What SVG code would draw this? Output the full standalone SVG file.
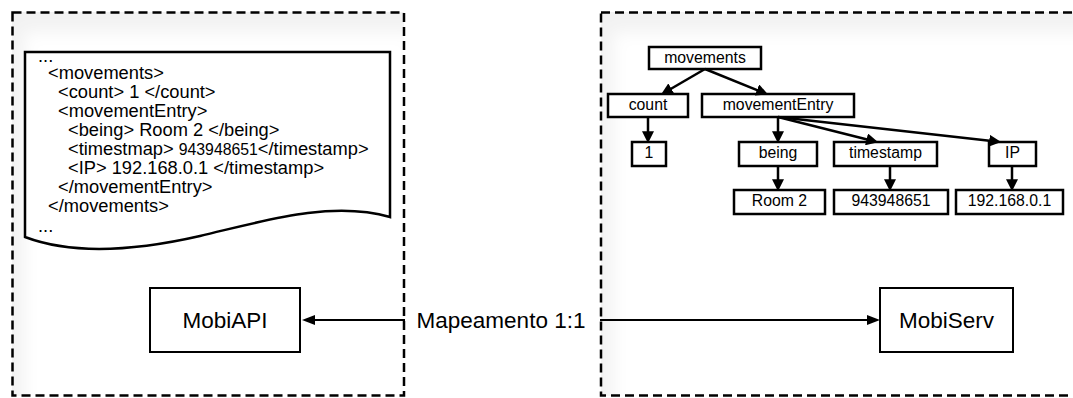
<svg xmlns="http://www.w3.org/2000/svg" width="1073" height="398" viewBox="0 0 1073 398">
  <style>
    .cont { fill: none; stroke: #000; stroke-width: 2.5; stroke-dasharray: 9 5; }
    .box { fill: #fff; stroke: #000; stroke-width: 2.5; }
    .bigbox { fill: #fff; stroke: #000; stroke-width: 2; }
    .xml { font-family: "Liberation Sans", Arial, sans-serif; font-size: 18.3px; fill: #000; }
    .lbl { font-family: "Liberation Sans", Arial, sans-serif; font-size: 15.8px; fill: #000; text-anchor: middle; }
    .big { font-family: "Liberation Sans", Arial, sans-serif; font-size: 22.5px; fill: #000; text-anchor: middle; }
    .edge { fill: none; stroke: #000; stroke-width: 2.5; }
    .link { fill: none; stroke: #000; stroke-width: 2; }
  </style>
  <defs>
    <marker id="ah" markerUnits="userSpaceOnUse" markerWidth="12" markerHeight="12" viewBox="0 0 10 10" refX="4" refY="5" orient="auto">
      <path d="M0,0 L10,5 L0,10 Z" fill="#000"/>
    </marker>
    <marker id="ahBig" markerUnits="userSpaceOnUse" markerWidth="13" markerHeight="10" viewBox="0 0 13 10" refX="4" refY="5" orient="auto">
      <path d="M0,0 L13,5 L0,10 Z" fill="#000"/>
    </marker>
    <filter id="blur" x="-20%" y="-20%" width="140%" height="140%">
      <feGaussianBlur stdDeviation="8"/>
    </filter>
    <clipPath id="clipL"><rect x="12" y="12" width="392" height="384"/></clipPath>
    <clipPath id="clipR"><rect x="601" y="12" width="480" height="384"/></clipPath>
  </defs>

  <!-- container shading -->
  <g id="shadeL" clip-path="url(#clipL)">
    <rect x="12" y="12" width="392" height="384" fill="#f2f2f2"/>
    <rect x="24" y="32" width="390" height="380" fill="#fff" filter="url(#blur)"/>
  </g>
  <g id="shadeR" clip-path="url(#clipR)">
    <rect x="601" y="12" width="480" height="384" fill="#f2f2f2"/>
    <rect x="613" y="32" width="480" height="380" fill="#fff" filter="url(#blur)"/>
  </g>

  <!-- XML document -->
  <g id="xmldoc">
    <path class="box" d="M25,52 H390 V217 C330,200 260,222 200,236 C130,252 70,254 25,237 Z"/>
    <text class="xml" x="38" y="62">...</text>
    <text class="xml" x="48" y="79">&lt;movements&gt;</text>
    <text class="xml" x="58" y="98">&lt;count&gt; 1 &lt;/count&gt;</text>
    <text class="xml" x="58" y="117">&lt;movementEntry&gt;</text>
    <text class="xml" x="68" y="136">&lt;being&gt; Room 2 &lt;/being&gt;</text>
    <text class="xml" x="68" y="155">&lt;timestmap&gt; <tspan font-size="15.8px">943948651</tspan>&lt;/timestamp&gt;</text>
    <text class="xml" x="68" y="174">&lt;IP&gt; 192.168.0.1 &lt;/timestamp&gt;</text>
    <text class="xml" x="58" y="193">&lt;/movementEntry&gt;</text>
    <text class="xml" x="48" y="212">&lt;/movements&gt;</text>
    <text class="xml" x="38" y="232">...</text>
  </g>

  <!-- tree nodes -->
  <g id="n-movements"><rect class="box" x="649" y="47" width="112" height="22"/><text class="lbl" x="705" y="63">movements</text></g>
  <g id="n-count"><rect class="box" x="608" y="94" width="80" height="23"/><text class="lbl" x="648" y="110">count</text></g>
  <g id="n-movementEntry"><rect class="box" x="702" y="94" width="152" height="23"/><text class="lbl" x="778" y="110">movementEntry</text></g>
  <g id="n-1"><rect class="box" x="632" y="142" width="34" height="24"/><text class="lbl" x="649" y="158">1</text></g>
  <g id="n-being"><rect class="box" x="739" y="142" width="78" height="24"/><text class="lbl" x="778" y="158">being</text></g>
  <g id="n-timestamp"><rect class="box" x="834" y="142" width="103" height="24"/><text class="lbl" x="885.5" y="158">timestamp</text></g>
  <g id="n-IP"><rect class="box" x="989" y="142" width="47" height="24"/><text class="lbl" x="1012.5" y="158">IP</text></g>
  <g id="n-room2"><rect class="box" x="734" y="190" width="91" height="24"/><text class="lbl" x="779.5" y="206">Room 2</text></g>
  <g id="n-ts-value"><rect class="box" x="834" y="190" width="114" height="24"/><text class="lbl" x="891" y="206">943948651</text></g>
  <g id="n-ip-value"><rect class="box" x="956" y="190" width="107" height="24"/><text class="lbl" x="1009.5" y="206">192.168.0.1</text></g>

  <!-- big nodes -->
  <g id="n-mobiapi"><rect class="bigbox" x="150" y="288" width="150" height="64"/><text class="big" x="225" y="328">MobiAPI</text></g>
  <g id="n-mobiserv"><rect class="bigbox" x="880" y="288" width="133" height="64"/><text class="big" x="946.5" y="328">MobiServ</text></g>

  <!-- connectors -->
  <g id="connectors">
    <path class="edge" marker-end="url(#ah)" d="M705,69 L667.2,91"/>
    <path class="edge" marker-end="url(#ah)" d="M705,69 L761.4,91.8"/>
    <path class="edge" marker-end="url(#ah)" d="M648,117 L648,136"/>
    <path class="edge" marker-end="url(#ah)" d="M778,117 L778,136"/>
    <path class="edge" marker-end="url(#ah)" d="M778,117 L871.2,140.5"/>
    <path class="edge" marker-end="url(#ah)" d="M778,117 L994,141.3"/>
    <path class="edge" marker-end="url(#ah)" d="M778,166 L778,184"/>
    <path class="edge" marker-end="url(#ah)" d="M890,166 L890,184"/>
    <path class="edge" marker-end="url(#ah)" d="M1012,166 L1012,184"/>
    <path class="link" marker-end="url(#ahBig)" d="M500,320 L311,320"/>
    <path class="link" marker-end="url(#ahBig)" d="M500,320 L871,320"/>
    <rect x="405" y="306" width="195" height="28" fill="#fff"/>
    <text class="big" x="501" y="328" font-size="24px">Mapeamento 1:1</text>
  </g>

  <!-- containers -->
  <g id="containers">
    <rect class="cont" x="12.5" y="12.5" width="391.5" height="383"/>
    <rect class="cont" x="601" y="12.5" width="490" height="383"/>
  </g>
</svg>
